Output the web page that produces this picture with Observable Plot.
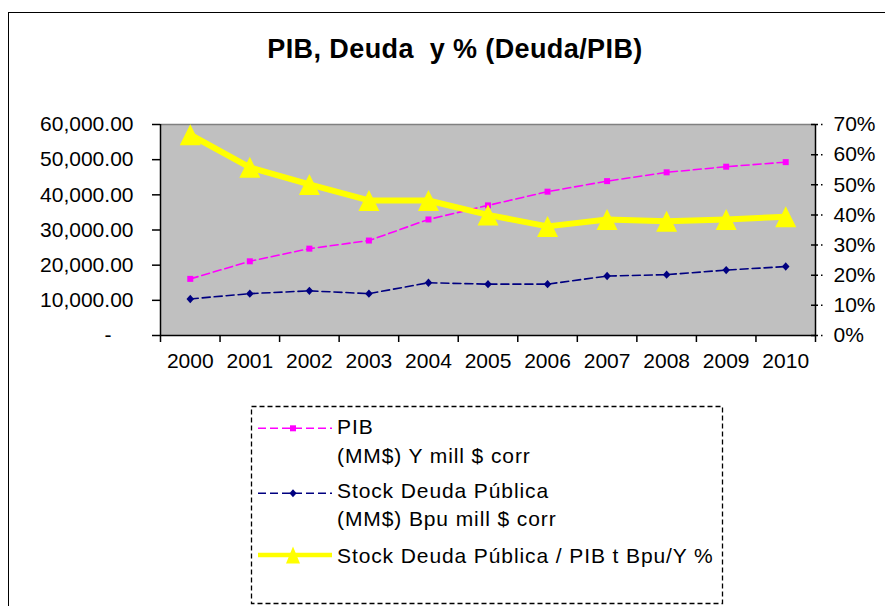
<!DOCTYPE html>
<html>
<head>
<meta charset="utf-8">
<script src="https://cdn.jsdelivr.net/npm/d3@7"></script>
<script src="https://cdn.jsdelivr.net/npm/@observablehq/plot@0.6"></script>
<style>
  html, body { margin: 0; padding: 0; background: #fff; }
  body { width: 885px; height: 606px; overflow: hidden; position: relative; font-family: "Liberation Sans", Arial, sans-serif; }
  #border { position: absolute; left: 8px; top: 12px; width: 1000px; height: 800px; border-left: 1.5px solid #000; border-top: 1.5px solid #000; }
  #title { position: absolute; left: 0; width: 910px; top: 35.5px; line-height: 27px; font-size: 27px; font-weight: bold; text-align: center; white-space: pre; letter-spacing: 0.4px; color: #000; }
  #chart { position: absolute; left: 0; top: 0; }
  #legend { position: absolute; left: 0; top: 0; }
</style>
</head>
<body>
<div id="border"></div>
<div id="title">PIB, Deuda  y % (Deuda/PIB)</div>
<div id="chart"></div>
<svg id="legend" width="885" height="606"></svg>
<script>
// ---- data ----
const years = [2000, 2001, 2002, 2003, 2004, 2005, 2006, 2007, 2008, 2009, 2010];
const pib = [16100, 21100, 24700, 27000, 33000, 37000, 40900, 43900, 46400, 48000, 49300];
const deuda = [10400, 11900, 12700, 11900, 15000, 14600, 14600, 16900, 17300, 18600, 19600];
const ratio = [66.6, 55.8, 50.1, 44.8, 44.8, 40.0, 36.2, 38.5, 37.9, 38.5, 39.4];
const leftTicks = [10000, 20000, 30000, 40000, 50000, 60000];
const zeroTick = [0];
const rightTicks = [0, 10, 20, 30, 40, 50, 60, 70];
const legendLabels = [
  ["PIB", "(MM$) Y mill $ corr"],
  ["Stock Deuda Pública", "(MM$) Bpu mill $ corr"],
  ["Stock Deuda Pública / PIB t Bpu/Y %"]
];

// secondary axis mapping: 70% <-> 60,000
const toY = p => p * 60000 / 70;

const pibData = years.map((y, i) => ({year: y, value: pib[i]}));
const deudaData = years.map((y, i) => ({year: y, value: deuda[i]}));
const ratioData = years.map((y, i) => ({year: y, value: ratio[i]}));
const bounds = d3.range(years.length + 1).map(i => years[0] - 0.5 + i);

// custom symbols (r = sqrt(size/PI))
const sq = {draw(ctx, size) { const r = Math.sqrt(size / Math.PI); ctx.rect(-r, -r, 2 * r, 2 * r); }};
const dia = {draw(ctx, size) { const r = Math.sqrt(size / Math.PI); ctx.moveTo(0, -r); ctx.lineTo(r * 0.9, 0); ctx.lineTo(0, r); ctx.lineTo(-r * 0.9, 0); ctx.closePath(); }};
const tri = {draw(ctx, size) { const r = Math.sqrt(size / Math.PI); ctx.moveTo(0, -r); ctx.lineTo(r, r); ctx.lineTo(-r, r); ctx.closePath(); }};

const font = "'Liberation Sans', Arial, sans-serif";

const chart = Plot.plot({
  width: 885,
  height: 400,
  marginLeft: 160,
  marginRight: 70,
  marginTop: 124,
  marginBottom: 65,
  style: {fontFamily: font, fontSize: "21px", color: "#000", background: "transparent", overflow: "visible"},
  x: {domain: [years[0] - 0.5, years[years.length - 1] + 0.5], label: null},
  y: {domain: [0, 60000], label: null},
  marks: [
    Plot.frame({fill: "#C0C0C0", stroke: null}),
    Plot.ruleY([60000], {stroke: "#808080", strokeWidth: 1.5}),
    Plot.ruleY([0], {stroke: "#000", strokeWidth: 1.5}),
    Plot.ruleX([bounds[0], bounds[bounds.length - 1]], {stroke: "#000", strokeWidth: 1.5}),
    Plot.axisX(bounds, {tickSize: 7, tickFormat: () => "", stroke: "#000", strokeWidth: 1.5, label: null}),
    Plot.axisX(years, {tickSize: 0, tickPadding: 18, tickFormat: d => String(d), label: null, fill: "#000"}),
    Plot.axisY(leftTicks, {anchor: "left", tickSize: 8, tickPadding: 19, tickFormat: d => d3.format(",.2f")(d), stroke: "#000", strokeWidth: 1.5, label: null, fill: "#000"}),
    Plot.axisY(zeroTick, {anchor: "left", tickSize: 8, tickPadding: 19, tickFormat: () => "", stroke: "#000", strokeWidth: 1.5, label: null}),
    Plot.axisY(zeroTick, {anchor: "left", tickSize: 0, tickPadding: 49, tickFormat: () => "-", label: null, fill: "#000"}),
    Plot.ruleY(rightTicks.map(toY), {x1: () => bounds[bounds.length - 1], x2: () => bounds[bounds.length - 1], insetLeft: -4, insetRight: -8, stroke: "#000", strokeWidth: 1.5, strokeDasharray: "7,3,1.5,5"}),
    Plot.axisY(rightTicks.map(toY), {anchor: "right", tickSize: 0, tickPadding: 18, tickFormat: d => Math.round(d * 70 / 60000) + "%", label: null, fill: "#000"}),
    Plot.line(pibData, {x: "year", y: "value", stroke: "#FF00FF", strokeWidth: 1.6, strokeDasharray: "8,4"}),
    Plot.dot(pibData, {x: "year", y: "value", symbol: sq, r: 3, fill: "#FF00FF", stroke: null}),
    Plot.line(deudaData, {x: "year", y: "value", stroke: "#000080", strokeWidth: 1.6, strokeDasharray: "8,4"}),
    Plot.dot(deudaData, {x: "year", y: "value", symbol: dia, r: 4.2, fill: "#000080", stroke: null}),
    Plot.line(ratioData, {x: "year", y: d => toY(d.value), stroke: "#FFFF00", strokeWidth: 6}),
    Plot.dot(ratioData, {x: "year", y: d => toY(d.value), symbol: tri, r: 10.5, fill: "#FFFF00", stroke: null})
  ]
});
document.getElementById("chart").appendChild(chart);

// ---- legend ----
const ns = "http://www.w3.org/2000/svg";
const lg = document.getElementById("legend");
function el(tag, attrs, text) {
  const e = document.createElementNS(ns, tag);
  for (const k in attrs) e.setAttribute(k, attrs[k]);
  if (text != null) e.textContent = text;
  lg.appendChild(e);
  return e;
}
el("rect", {x: 251.5, y: 406.5, width: 471, height: 197, fill: "none", stroke: "#000", "stroke-width": 1.3, "stroke-dasharray": "5,3"});
const items = [
  {color: "#FF00FF", w: 1.6, dash: "8,4", ly: 428.3, sym: "sq", base: [434.2, 462.5]},
  {color: "#000080", w: 1.6, dash: "8,4", ly: 493.3, sym: "dia", base: [498.2, 525.8]},
  {color: "#FFFF00", w: 4.5, dash: null, ly: 555, sym: "tri", base: [562.5]}
];
items.forEach((it, k) => {
  const a = {x1: 258, x2: 332, y1: it.ly, y2: it.ly, stroke: it.color, "stroke-width": it.w};
  if (it.dash) a["stroke-dasharray"] = it.dash;
  el("line", a);
  const cx = 293, cy = it.ly;
  if (it.sym === "sq") el("rect", {x: cx - 3, y: cy - 3, width: 6, height: 6, fill: it.color});
  if (it.sym === "dia") el("path", {d: `M${cx},${cy - 4}L${cx + 3.6},${cy}L${cx},${cy + 4}L${cx - 3.6},${cy}Z`, fill: it.color});
  if (it.sym === "tri") el("path", {d: `M${cx},${cy - 8.5}L${cx + 7},${cy + 8.5}L${cx - 7},${cy + 8.5}Z`, fill: it.color});
  legendLabels[k].forEach((t, j) => {
    el("text", {x: 337, y: it.base[j], "font-family": font, "font-size": 21, "letter-spacing": 0.9, fill: "#000"}, t);
  });
});
</script>
</body>
</html>
